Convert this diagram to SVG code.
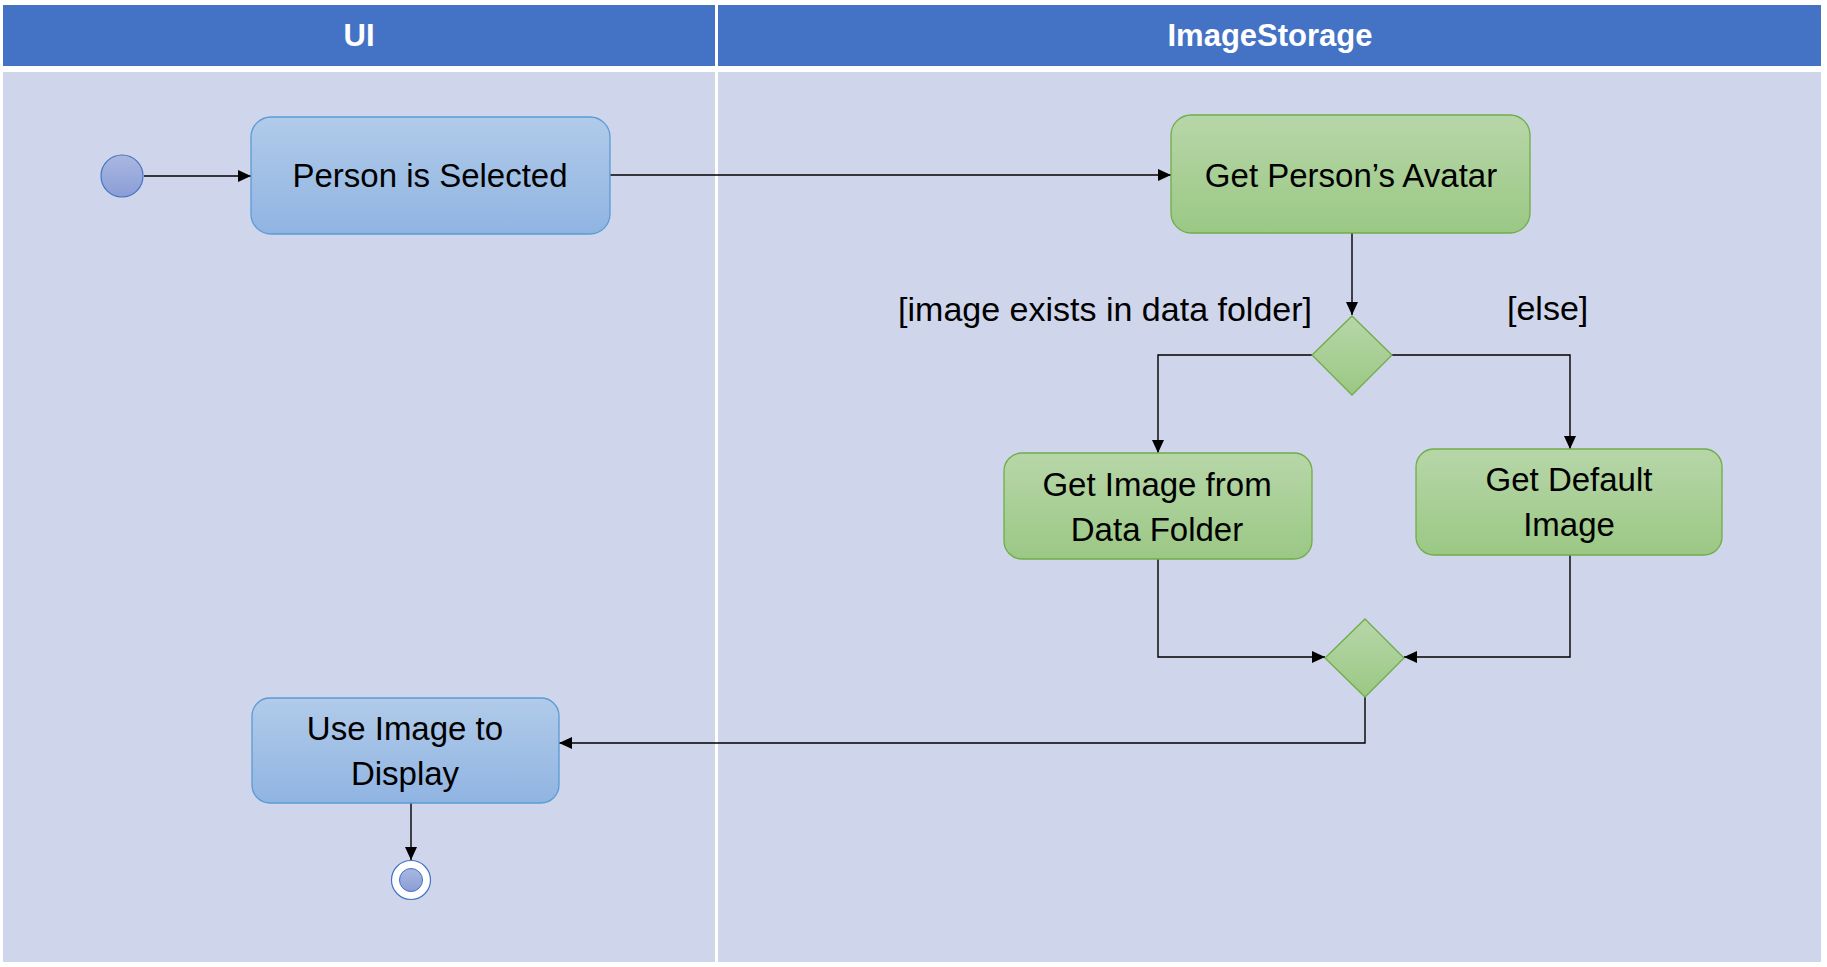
<svg xmlns="http://www.w3.org/2000/svg" width="1827" height="967" viewBox="0 0 1827 967">
<style>
.hdr{fill:#4472C4}
.lane{fill:#CFD5EA}
.htxt{font-family:"Liberation Sans",Arial,sans-serif;font-weight:bold;font-size:31px;fill:#FFFFFF;text-anchor:middle}
.txt{font-family:"Liberation Sans",Arial,sans-serif;font-size:33px;fill:#000000;text-anchor:middle}
.lbl{font-family:"Liberation Sans",Arial,sans-serif;font-size:34px;fill:#000000}
.blue{fill:url(#gBlue);stroke:#5B9BD5;stroke-width:1.3}
.green{fill:url(#gGreen);stroke:#70AD47;stroke-width:1.3}
.conn{fill:none;stroke:#000000;stroke-width:1.4;marker-end:url(#arr)}
</style>
<defs>
<linearGradient id="gBlue" x1="0" y1="0" x2="0" y2="1">
<stop offset="0" stop-color="#B1CBE9"/>
<stop offset="1" stop-color="#90B4E2"/>
</linearGradient>
<linearGradient id="gGreen" x1="0" y1="0" x2="0" y2="1">
<stop offset="0" stop-color="#B7D6A8"/>
<stop offset="1" stop-color="#9BC885"/>
</linearGradient>
<linearGradient id="gDot" x1="0" y1="0" x2="0" y2="1">
<stop offset="0" stop-color="#AAB7E1"/>
<stop offset="1" stop-color="#8A9DD6"/>
</linearGradient>
<marker id="arr" markerUnits="userSpaceOnUse" markerWidth="14" markerHeight="13" refX="13" refY="6" orient="auto">
<path d="M0,0 L13,6 L0,12 z" fill="#000000"/>
</marker>
</defs>
<rect x="0" y="0" width="1827" height="967" fill="#FFFFFF"/>
<g id="lanes">
<rect class="hdr" x="3" y="5" width="712" height="61"/>
<rect class="hdr" x="718" y="5" width="1103" height="61"/>
<rect class="lane" x="3" y="72" width="712" height="890"/>
<rect class="lane" x="718" y="72" width="1103" height="890"/>
<text class="htxt" x="359" y="46">UI</text>
<text class="htxt" x="1270" y="46">ImageStorage</text>
</g>
<g id="connectors">
<path class="conn" d="M144,176 H251"/>
<path class="conn" d="M610,175 H1171"/>
<path class="conn" d="M1352,233 V315"/>
<path class="conn" d="M1312,355 H1158 V453"/>
<path class="conn" d="M1392,355 H1570 V449"/>
<path class="conn" d="M1158,559 V657 H1325"/>
<path class="conn" d="M1570,555 V657 H1404"/>
<path class="conn" d="M1365,697 V743 H559"/>
<path class="conn" d="M411,803 V860"/>
</g>
<g id="start">
<circle cx="122" cy="176" r="21" fill="url(#gDot)" stroke="#4472C4" stroke-width="1.2"/>
</g>
<g id="personSelected">
<rect class="blue" x="251" y="117" width="359" height="117" rx="20"/>
<text class="txt" x="430" y="187">Person is Selected</text>
</g>
<g id="getAvatar">
<rect class="green" x="1171" y="115" width="359" height="118" rx="20"/>
<text class="txt" x="1351" y="187">Get Person’s Avatar</text>
</g>
<g id="labels">
<text class="lbl" x="1312" y="321" text-anchor="end">[image exists in data folder]</text>
<text class="lbl" x="1507" y="320">[else]</text>
</g>
<g id="decision">
<polygon class="green" points="1352,316 1392,355 1352,395 1312,355"/>
</g>
<g id="getFromFolder">
<rect class="green" x="1004" y="453" width="308" height="106" rx="18"/>
<text class="txt" x="1157" y="496">Get Image from</text>
<text class="txt" x="1157" y="541">Data Folder</text>
</g>
<g id="getDefault">
<rect class="green" x="1416" y="449" width="306" height="106" rx="18"/>
<text class="txt" x="1569" y="491">Get Default</text>
<text class="txt" x="1569" y="536">Image</text>
</g>
<g id="merge">
<polygon class="green" points="1365,619 1404,658 1365,697 1325,658"/>
</g>
<g id="useImage">
<rect class="blue" x="252" y="698" width="307" height="105" rx="18"/>
<text class="txt" x="405" y="740">Use Image to</text>
<text class="txt" x="405" y="785">Display</text>
</g>
<g id="end">
<circle cx="411" cy="880" r="19.5" fill="#FFFFFF" stroke="#4472C4" stroke-width="1.2"/>
<circle cx="411" cy="880" r="11.5" fill="url(#gDot)" stroke="#4472C4" stroke-width="1"/>
</g>
</svg>
